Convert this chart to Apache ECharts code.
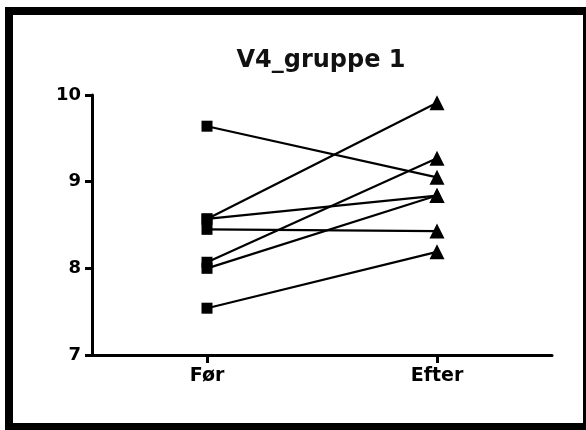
<!DOCTYPE html>
<html>
<head>
<meta charset="utf-8">
<script src="https://cdn.jsdelivr.net/npm/echarts@6/dist/echarts.min.js"></script>
<style>
html, body { margin: 0; padding: 0; background: #fff; }
#chart { width: 586px; height: 430px; }
</style>
</head>
<body>
<div id="chart"></div>
<script>
// paired values, one subject per index
const categories = ['Før', 'Efter'];
const before = [9.64, 8.57, 8.57, 8.45, 8.07, 8.00, 7.54];
const after = [9.05, 9.91, 8.84, 8.43, 9.27, 8.84, 8.19];
const yTicks = [7, 8, 9, 10];

const fontFam = 'DejaVu Sans';

let seriesData = before.map((b, i) => {
    return {
        type: 'line',
        data: [
            { value: b, symbol: 'rect', symbolSize: 11 },
            { value: after[i], symbol: 'triangle', symbolSize: 15 }
        ],
        lineStyle: { color: '#000', width: 2.2 },
        itemStyle: { color: '#000' },
        showAllSymbol: true,
        animation: false
    };
});

let chart = echarts.init(document.getElementById('chart'));
chart.setOption({
    animation: false,
    title: {
        text: 'V4_gruppe 1',
        left: 316,
        textAlign: 'center',
        top: 44,
        textStyle: { fontFamily: fontFam, fontSize: 24, fontWeight: 'bold', color: '#111' }
    },
    grid: { left: 92, right: 34, top: 95, bottom: 75 },
    xAxis: {
        type: 'category',
        data: categories,
        axisLine: { lineStyle: { color: '#000', width: 3 } },
        axisTick: { show: true, interval: 0, alignWithLabel: true, length: 8, lineStyle: { color: '#000', width: 3 } },
        axisLabel: { margin: 12, color: '#000', fontFamily: fontFam, fontSize: 19, fontWeight: 'bold' }
    },
    yAxis: {
        type: 'value',
        min: yTicks[0],
        max: yTicks[yTicks.length - 1],
        interval: 1,
        splitLine: { show: false },
        axisLine: { show: true, lineStyle: { color: '#000', width: 3 } },
        axisTick: { show: true, length: 7, lineStyle: { color: '#000', width: 3 } },
        axisLabel: { margin: 11, color: '#000', fontFamily: fontFam, fontSize: 18, fontWeight: 'bold' }
    },
    graphic: [{
        type: 'rect',
        shape: { x: 9, y: 11, width: 578, height: 416 },
        style: { fill: 'none', stroke: '#000', lineWidth: 8 }
    }],
    series: seriesData
});
</script>
</body>
</html>
